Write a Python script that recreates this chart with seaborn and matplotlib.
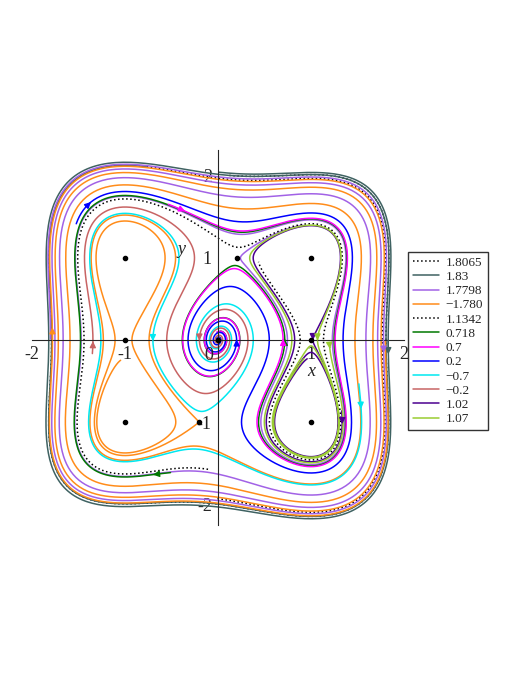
import numpy as np
import pandas as pd
import seaborn as sns
import matplotlib.pyplot as plt
from matplotlib.lines import Line2D

sns.set_style("white")
plt.rcParams['font.family'] = ['Liberation Serif', 'DejaVu Serif']

# trajectories start at (x0, 0); legend shows x0
x0_vals = [1.8065, 1.83, 1.7798, -1.780, 1.1342, 0.718, 0.7, 0.2, -0.7, -0.2, 1.02, 1.07]
labels = ['1.8065', '1.83', '1.7798', '\u22121.780', '1.1342', '0.718', '0.7', '0.2',
          '\u22120.7', '\u22120.2', '1.02', '1.07']
colors = ['black', '#3f6262', '#a262e6', '#ff8c1a', 'black', '#007800', '#ff00ff',
          '#0000ff', '#00e8f0', '#c86464', '#4b0090', '#9acd32']
styles = [':', '-', '-', '-', ':', '-', '-', '-', '-', '-', '-', '-']
# time spans integrated backward / forward from each start
t_back = [1, 1, 2, 2, 10, 12, 9, 19.5, 10, 16, 15, 15]
t_fwd = [5, 6.5, 32, 55, 10, 25, 25, 25, 25, 25, 15, 15]

# equilibrium points
eq_x = [-1, 1, 0.2, -1, 1, -0.2, 0, -1, 1]
eq_y = [1, 1, 1, -1, -1, -1, 0, 0, 0]

G = 0.15


def field(x, y):
    q = (1 + 0.04 * G) / (1 + G * x**2)
    return 0.5 * (y**3 - y), (1 - x**2) * (x - 0.2 * y * q)


def integrate(x, y, T, dt):
    xs, ys = [x], [y]
    for _ in range(int(T / abs(dt))):
        k1 = field(x, y)
        k2 = field(x + dt / 2 * k1[0], y + dt / 2 * k1[1])
        k3 = field(x + dt / 2 * k2[0], y + dt / 2 * k2[1])
        k4 = field(x + dt * k3[0], y + dt * k3[1])
        x = x + dt / 6 * (k1[0] + 2 * k2[0] + 2 * k3[0] + k4[0])
        y = y + dt / 6 * (k1[1] + 2 * k2[1] + 2 * k3[1] + k4[1])
        if abs(x) > 2.6 or abs(y) > 2.6:
            break
        xs.append(x)
        ys.append(y)
    return np.array(xs), np.array(ys)


rows = []
starts = {}
for i, x0 in enumerate(x0_vals):
    bx, by = integrate(x0, 0.0, t_back[i], -0.01)
    fx, fy = integrate(x0, 0.0, t_fwd[i], 0.01)
    xx = np.concatenate([bx[::-1], fx[1:]])
    yy = np.concatenate([by[::-1], fy[1:]])
    starts[i] = len(bx) - 1
    rows.append(pd.DataFrame({'x': xx, 'y': yy, 'traj': i}))
df = pd.concat(rows, ignore_index=True)

fig = plt.figure(figsize=(5.27, 6.82), dpi=100)
ax = fig.add_axes([32 / 527, 1 - 525 / 682, 372 / 527, 375 / 682])


def arrow(pts, k, c):
    ax.annotate('', xy=pts[min(k + 4, len(pts) - 1)], xytext=pts[k],
                arrowprops=dict(arrowstyle='-|>', color=c, lw=1,
                                mutation_scale=9, shrinkA=0, shrinkB=0))


for i in range(len(x0_vals)):
    sub = df[df.traj == i]
    sns.lineplot(data=sub, x='x', y='y', sort=False, estimator=None, ax=ax,
                 color=colors[i], linestyle=styles[i], lw=1.1)
    if styles[i] == '-':
        pts = sub[['x', 'y']].values
        arrow(pts, starts[i], colors[i])
        if starts[i] > 600:
            arrow(pts, 10, colors[i])

ax.scatter(eq_x, eq_y, s=9, color='black', zorder=5)

ax.set_xlim(-2.0, 2.0)
ax.set_ylim(-2.256, 2.317)
ax.set_xlabel('')
ax.set_ylabel('')
for s in ['top', 'right']:
    ax.spines[s].set_visible(False)
ax.spines['left'].set_position(('data', 0))
ax.spines['bottom'].set_position(('data', 0))
for s in ['left', 'bottom']:
    ax.spines[s].set_linewidth(0.8)
ax.set_xticks([-2, -1, 1, 2])
ax.set_xticklabels(['-2', '-1', '1', '2'])
ax.set_yticks([-2, -1, 1, 2])
ax.set_yticklabels(['-2', '-1', '1', '2'])
ax.tick_params(axis='both', direction='inout', length=5, width=0.6, labelsize=13, pad=2)
ax.text(-0.05, -0.08, '0', ha='right', va='top', fontsize=13)
ax.text(1.0, -0.38, 'x', ha='center', va='center', fontsize=13, style='italic')
ax.text(-0.39, 1.1, 'y', ha='center', va='center', fontsize=13, style='italic')

handles = [Line2D([], [], color=c, linestyle=s, lw=1.1) for c, s in zip(colors, styles)]
fig.legend(handles, labels, loc='upper left', bbox_to_anchor=(408 / 527, 1 - 252 / 682),
           frameon=True, fancybox=False, edgecolor='black', fontsize=9.5,
           handlelength=2.0, handletextpad=0.5, labelspacing=0.15, borderpad=0.35,
           borderaxespad=0)

fig.savefig('out.png', dpi=100)
